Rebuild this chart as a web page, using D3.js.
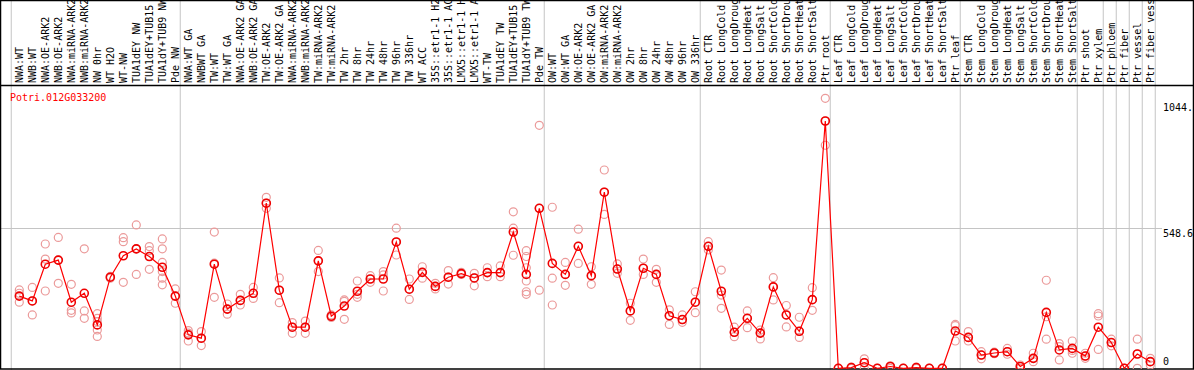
<!DOCTYPE html>
<html>
<head>
<meta charset="utf-8">
<script src="https://cdn.jsdelivr.net/npm/d3@7"></script>
<style>
  body { margin: 0; background: #fff; }
  svg { display: block; }
  text { font-family: "DejaVu Sans Mono", monospace; font-size: 10px; }
</style>
</head>
<body>
<div id="chart"></div>
<script>
// sample names, left to right
var samples = [
  "NWA:WT", "NWB:WT", "NWA:OE-ARK2", "NWB:OE-ARK2", "NWA:miRNA-ARK2", "NWB:miRNA-ARK2",
  "NW 0hr", "WT H2O", "WT-NW", "TUA1dEY NW", "TUA1dEY+TUB15 NW", "TUA1dY+TUB9 NW", "Pde NW",
  "NWA:WT GA", "NWBWT GA", "TW:WT", "TW:WT GA", "NWA:OE-ARK2 GA", "NWB:OE-ARK2 GA",
  "TW:OE-ARK2", "TW:OE-ARK2 GA", "NWA:miRNA-ARK2", "NWB:miRNA-ARK2", "TW:miRNA-ARK2", "TW:miRNA-ARK2",
  "TW 2hr", "TW 8hr", "TW 24hr", "TW 48hr", "TW 96hr", "TW 336hr", "WT ACC",
  "35S::etr1-1 H2O", "35S::etr1-1 ACC", "LMX5::etr1-1 H2O", "LMX5::etr1-1 ACC",
  "WT-TW", "TUA1dEY TW", "TUA1dEY+TUB15 TW", "TUA1dY+TUB9 TW", "Pde TW",
  "OW:WT", "OW:WT GA", "OW:OE-ARK2", "OW:OE-ARK2 GA", "OW:miRNA-ARK2", "OW:miRNA-ARK2",
  "OW 2hr", "OW 8hr", "OW 24hr", "OW 48hr", "OW 96hr", "OW 336hr",
  "Root CTR", "Root LongCold", "Root LongDrought", "Root LongHeat", "Root LongSalt",
  "Root ShortCold", "Root ShortDrought", "Root ShortHeat", "Root ShortSalt", "Ptr root",
  "Leaf CTR", "Leaf LongCold", "Leaf LongDrought", "Leaf LongHeat", "Leaf LongSalt",
  "Leaf ShortCold", "Leaf ShortDrought", "Leaf ShortHeat", "Leaf ShortSalt", "Ptr leaf",
  "Stem CTR", "Stem LongCold", "Stem LongDrought", "Stem LongHeat", "Stem LongSalt",
  "Stem ShortCold", "Stem ShortDrought", "Stem ShortHeat", "Stem ShortSalt",
  "Ptr shoot", "Ptr xylem", "Ptr phloem", "Ptr fiber", "Ptr vessel", "Ptr fiber vessel"
];

// mean expression per sample
var means = [
  283, 264, 408, 424, 259, 294, 170, 357, 441, 468, 438, 396, 283,
  131, 118, 408, 232, 266, 294, 647, 306, 161, 161, 421, 204,
  244, 302, 350, 350, 495, 310, 376, 321, 357, 371, 354, 375, 375, 534, 368, 627,
  411, 368, 478, 363, 690, 389, 225, 392, 368, 206, 191, 259,
  478, 302, 141, 196, 138, 319, 209, 145, 269, 969,
  0, 3, 22, 0, 7, 0, 3, 0, 0, 146,
  121, 52, 60, 65, 7, 39, 219, 72, 78,
  48, 161, 101, 0, 56, 26
];

// single replicates per sample
var reps = [
  [307, 294, 259], [317, 264, 209], [487, 428, 303], [513, 424, 333], [329, 227, 217],
  [468, 225, 196], [214, 196, 183, 150, 125], [360, 353], [512, 496, 337], [562, 468, 368],
  [477, 461, 438, 388], [507, 468, 415, 379, 353, 327], [311, 283, 255],
  [148, 138, 107], [144, 118, 89], [534, 412, 278], [252, 232, 212], [290, 266, 248],
  [317, 294, 274], [670, 647, 627], [354, 306, 257], [179, 161, 137], [185, 161, 137],
  [462, 421, 379], [209, 204, 199],
  [268, 262, 192], [342, 290, 278], [363, 350, 337], [379, 366, 303], [549, 495, 444],
  [350, 310, 270], [398, 376, 353], [333, 321, 311], [383, 357, 330], [376, 371, 368],
  [372, 354, 323], [394, 375, 359], [401, 375, 359], [613, 549, 443],
  [461, 438, 394, 342, 300, 290], [952, 627, 306],
  [631, 353, 248], [415, 368, 325], [545, 478, 411], [398, 363, 329], [777, 690, 603],
  [409, 389, 372], [255, 225, 188], [428, 392, 368], [388, 368, 337], [229, 206, 172],
  [209, 191, 180], [300, 259, 218],
  [496, 478, 464], [385, 287, 235], [161, 141, 124], [225, 196, 159], [150, 138, 115],
  [355, 319, 268], [246, 209, 162], [200, 145, 121], [316, 269, 227], [1058, 969, 874],
  [0, 0], [5, 3, 0], [37, 22, 0], [0, 0], [10, 7, 0], [0, 0], [5, 3, 0], [0, 0], [0, 0],
  [172, 167, 107],
  [144, 121, 107], [65, 52, 37], [63, 60, 57], [78, 65, 55], [13, 7, 0], [59, 39, 26],
  [345, 202, 114], [97, 85, 33], [107, 70, 59],
  [59, 48, 39], [214, 205, 74], [114, 101, 88], [0, 0], [114, 56, 0], [39, 26, 13]
];

// first sample index of each group (last entry closes the final group)
var groupStarts = [0, 13, 41, 53, 63, 73, 82, 84, 85, 86, 87, 88];

var geneName = "Potri.012G033200";
var yMax = 1044.95;
var yTicks = [0, 548.6, yMax];

var width = 1194, height = 370, headH = 85;

var svg = d3.select("#chart").append("svg")
  .attr("width", width)
  .attr("height", height);

var x = d3.scaleLinear()
  .domain([0, samples.length - 1])
  .range([19.3, 19.3 + (samples.length - 1) * 13]);

var y = d3.scaleLinear()
  .domain([0, yMax * 1.05])
  .range([368.3, 88.3]);

svg.append("clipPath").attr("id", "plotclip")
  .append("rect")
  .attr("x", 1).attr("y", headH + 1)
  .attr("width", width - 2).attr("height", height - headH - 2);

// grid
svg.append("g")
  .selectAll("line")
  .data(groupStarts)
  .enter().append("line")
  .attr("x1", (d) => x(d - 0.62))
  .attr("x2", (d) => x(d - 0.62))
  .attr("y1", 0)
  .attr("y2", height)
  .style("stroke", "#c4c4c4")
  .style("stroke-width", 1);

svg.append("line")
  .attr("x1", 1).attr("x2", 1162)
  .attr("y1", Math.round(y(548.6)) + 0.5)
  .attr("y2", Math.round(y(548.6)) + 0.5)
  .style("stroke", "#c4c4c4");

// sample labels
svg.append("g")
  .selectAll("text")
  .data(samples)
  .enter().append("text")
  .attr("transform", (d, i) => "translate(" + x(i) + "," + 83 + ") rotate(-90)")
  .attr("dy", "0.35em")
  .text((d) => d)
  .style("fill", "#000");

// borders
svg.append("rect")
  .attr("x", 0.5).attr("y", 0.5)
  .attr("width", width - 1).attr("height", height - 1.5)
  .style("fill", "none")
  .style("stroke", "#000")
  .style("stroke-width", 1.5);

svg.append("line")
  .attr("x1", 0).attr("x2", width)
  .attr("y1", headH + 0.5).attr("y2", headH + 0.5)
  .style("stroke", "#000")
  .style("stroke-width", 1.5);

// title
svg.append("text")
  .attr("x", 10)
  .attr("y", 101)
  .text(geneName)
  .style("fill", "#f00");

// y tick labels
svg.append("g")
  .selectAll("text")
  .data(yTicks)
  .enter().append("text")
  .attr("x", 1163)
  .attr("y", (d) => Math.min(y(d) + 9, 365))
  .text((d) => d === 0 ? "0" : String(d))
  .style("fill", "#000");

var plot = svg.append("g").attr("clip-path", "url(#plotclip)");

// replicate circles
var repPts = [];
reps.forEach(function(r, i) {
  r.forEach(function(v) { repPts.push({i: i, v: v}); });
});

plot.append("g")
  .selectAll("circle")
  .data(repPts)
  .enter().append("circle")
  .attr("cx", (d) => x(d.i))
  .attr("cy", (d) => y(d.v))
  .attr("r", 4)
  .style("fill", "none")
  .style("stroke", "#eb9a9a")
  .style("stroke-width", 1.2);

// mean line
var line = d3.line()
  .x((d, i) => x(i))
  .y((d) => y(d));

plot.append("path")
  .datum(means)
  .attr("d", line)
  .style("fill", "none")
  .style("stroke", "#f00")
  .style("stroke-width", 1.2);

plot.append("g")
  .selectAll("circle")
  .data(means)
  .enter().append("circle")
  .attr("cx", (d, i) => x(i))
  .attr("cy", (d) => y(d))
  .attr("r", 4)
  .style("fill", "none")
  .style("stroke", "#e00")
  .style("stroke-width", 1.6);
</script>
</body>
</html>
